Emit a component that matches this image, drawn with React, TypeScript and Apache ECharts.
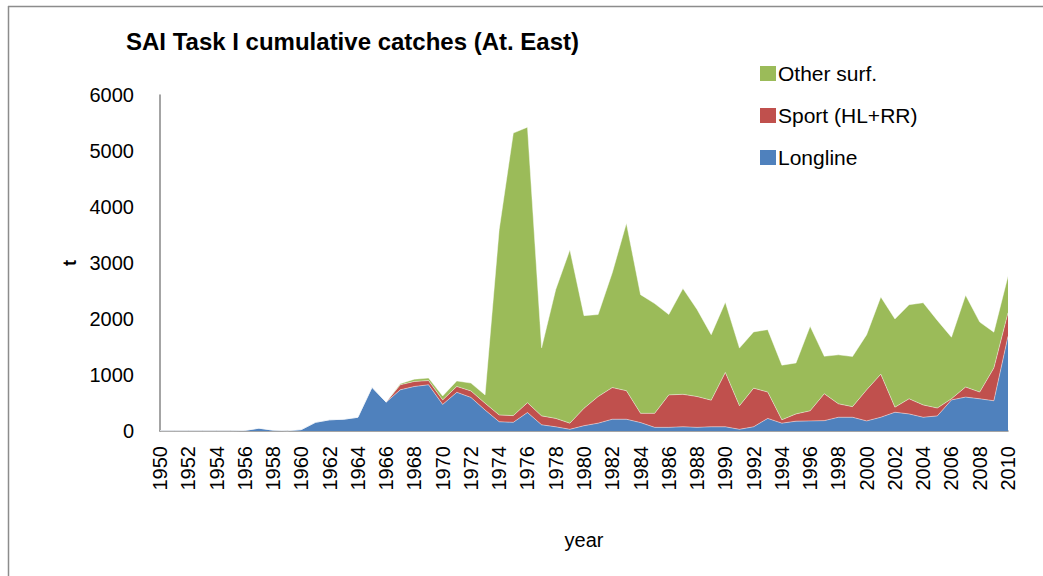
import React, { useEffect, useRef } from "react";
import * as echarts from "echarts";

const years = [
  "1950","1951","1952","1953","1954","1955","1956","1957","1958","1959",
  "1960","1961","1962","1963","1964","1965","1966","1967","1968","1969",
  "1970","1971","1972","1973","1974","1975","1976","1977","1978","1979",
  "1980","1981","1982","1983","1984","1985","1986","1987","1988","1989",
  "1990","1991","1992","1993","1994","1995","1996","1997","1998","1999",
  "2000","2001","2002","2003","2004","2005","2006","2007","2008","2009",
  "2010",
];

const longline = [
  5, 5, 5, 5, 5, 5, 10, 50, 15, 5,
  25, 155, 200, 210, 245, 780, 515, 735, 795, 825,
  475, 690, 600, 375, 165, 155, 330, 110, 75, 30,
  95, 140, 210, 210, 150, 65, 65, 75, 65, 75,
  75, 30, 75, 225, 140, 175, 180, 185, 245, 245,
  180, 245, 335, 305, 245, 270, 555, 605, 575, 540,
  1690,
];

const sport = [
  0, 0, 0, 0, 0, 0, 0, 0, 0, 0,
  0, 0, 0, 0, 0, 0, 0, 90, 90, 75,
  80, 105, 115, 120, 120, 120, 175, 160, 150, 110,
  310, 475, 565, 510, 165, 250, 580, 580, 550, 475,
  970, 420, 690, 470, 60, 130, 180, 480, 240, 190,
  555, 770, 90, 270, 220, 140, 20, 180, 120, 585,
  420,
];

const otherSurf = [
  0, 0, 0, 0, 0, 0, 0, 0, 0, 0,
  0, 0, 0, 0, 0, 0, 0, 20, 40, 45,
  70, 100, 140, 150, 3315, 5045, 4920, 1215, 2300, 3095,
  1655, 1465, 2050, 2990, 2120, 1960, 1435, 1890, 1555, 1170,
  1255, 1030, 1005, 1115, 975, 910, 1510, 670, 875, 895,
  985, 1380, 1575, 1680, 1825, 1565, 1100, 1640, 1250, 640,
  655,
];

const yTicks = { min: 0, max: 6000, interval: 1000 };

const FONT = "'Liberation Sans', Arial, sans-serif";
const C_LONG = "#4F81BD";
const C_SPORT = "#C0504D";
const C_OTHER = "#9BBB59";

export default function App() {
  const ref = useRef<HTMLDivElement>(null);

  useEffect(() => {
    document.body.style.margin = "0";
    if (!ref.current) return;
    const chart = echarts.init(ref.current, undefined, { renderer: "svg" });
    const mk = (name: string, data: number[], color: string) => ({
      name,
      type: "line",
      stack: "total",
      data,
      symbol: "none",
      color,
      itemStyle: { color },
      lineStyle: { width: 0.8, color: "rgba(255,255,255,0.55)" },
      areaStyle: { color, opacity: 1 },
      emphasis: { disabled: true },
    });
    chart.setOption({
      animation: false,
      backgroundColor: "#ffffff",
      textStyle: { fontFamily: FONT },
      title: {
        text: "SAI Task I cumulative catches (At. East)",
        left: 121,
        top: 24,
        textStyle: { fontFamily: FONT, fontSize: 24, fontWeight: "bold", color: "#000" },
      },
      legend: {
        orient: "vertical",
        left: 755,
        top: 58,
        itemWidth: 16,
        itemHeight: 15,
        itemGap: 21,
        itemSymbolGap: 0,
        icon: "rect",
        textStyle: { fontFamily: FONT, fontSize: 21, color: "#000", padding: [0, 0, 0, -3] },
        data: [
          { name: "Other surf.", itemStyle: { color: C_OTHER } },
          { name: "Sport (HL+RR)", itemStyle: { color: C_SPORT } },
          { name: "Longline", itemStyle: { color: C_LONG } },
        ],
      },
      grid: { left: 160, right: 35, top: 95, bottom: 145, containLabel: false },
      xAxis: {
        type: "category",
        data: years,
        boundaryGap: false,
        name: "year",
        nameLocation: "middle",
        nameGap: 99,
        nameTextStyle: { fontFamily: FONT, fontSize: 20, color: "#000" },
        axisLine: { lineStyle: { color: "#868686", width: 1.5 } },
        axisTick: { show: false },
        axisLabel: {
          interval: 1,
          rotate: 90,
          margin: 15,
          fontFamily: FONT,
          fontSize: 20,
          color: "#000",
        },
        splitLine: { show: false },
      },
      yAxis: {
        type: "value",
        min: yTicks.min,
        max: yTicks.max,
        interval: yTicks.interval,
        name: "t",
        nameLocation: "middle",
        nameRotate: 90,
        nameGap: 80,
        nameTextStyle: { fontFamily: FONT, fontSize: 18, fontWeight: "bold", color: "#000" },
        axisLine: { show: true, lineStyle: { color: "#868686", width: 1.5 } },
        axisTick: { show: false },
        axisLabel: {
          margin: 26,
          fontFamily: FONT,
          fontSize: 20,
          color: "#000",
          formatter: (v: number) => String(v),
        },
        splitLine: { show: false },
      },
      graphic: [
        { type: "line", shape: { x1: 8, y1: 6.5, x2: 1043, y2: 6.5 }, style: { stroke: "#8c8c8c", lineWidth: 1.5 } },
        { type: "line", shape: { x1: 8.5, y1: 6, x2: 8.5, y2: 576 }, style: { stroke: "#8c8c8c", lineWidth: 1.5 } },
      ],
      series: [
        mk("Longline", longline, C_LONG),
        mk("Sport (HL+RR)", sport, C_SPORT),
        mk("Other surf.", otherSurf, C_OTHER),
      ],
    });
    return () => chart.dispose();
  }, []);

  return <div ref={ref} style={{ width: 1043, height: 576 }} />;
}
